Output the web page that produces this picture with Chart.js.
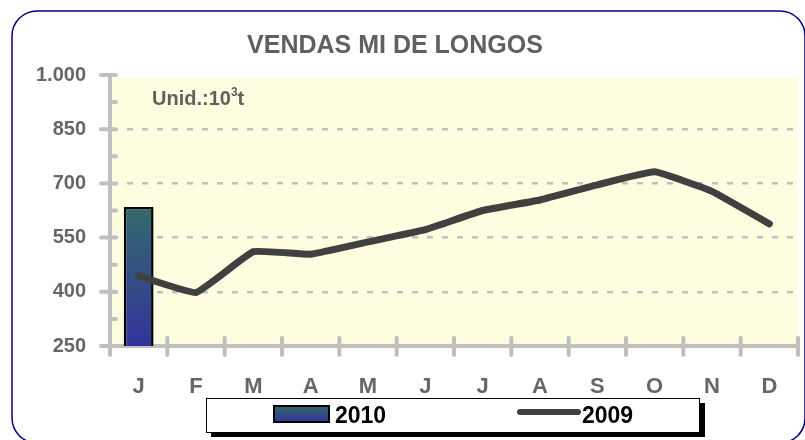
<!DOCTYPE html>
<html>
<head>
<meta charset="utf-8">
<script src="https://cdn.jsdelivr.net/npm/chart.js@4/dist/chart.umd.min.js"></script>
<style>
  html, body { margin: 0; padding: 0; background: #fff; }
  #wrap { width: 805px; height: 440px; position: relative; }
</style>
</head>
<body>
<div id="wrap"><canvas id="chart" width="805" height="440"></canvas></div>
<script>
// dados (10^3 t)
const months = ['J', 'F', 'M', 'A', 'M', 'J', 'J', 'A', 'S', 'O', 'N', 'D'];
const sales2010 = [635, null, null, null, null, null, null, null, null, null, null, null];
const sales2009 = [444, 398, 511, 504, 538, 572, 625, 654, 696, 732, 678, 588];
const yTickLabels = { 250: '250', 400: '400', 550: '550', 700: '700', 850: '850', 1000: '1.000' };

const AXIS_GREY = '#c0c0c0';
const TEXT_GREY = '#666666';

// fundo, moldura, eixos e legenda desenhados à mão
const decorPlugin = {
  id: 'decor',
  beforeDraw(chart) {
    const { ctx, chartArea: a } = chart;
    ctx.save();
    ctx.fillStyle = '#fefde0';
    ctx.fillRect(a.left + 2, a.top + 3, a.right - a.left - 3, a.bottom - a.top - 3);

    // moldura arredondada
    ctx.strokeStyle = '#000080';
    ctx.lineWidth = 1.5;
    ctx.beginPath();
    ctx.roundRect(12, 11, 793, 432, 25);
    ctx.stroke();

    // título
    ctx.fillStyle = '#606060';
    ctx.font = 'bold 25px "Liberation Sans", Arial, sans-serif';
    ctx.textAlign = 'center';
    ctx.textBaseline = 'alphabetic';
    ctx.fillText('VENDAS MI DE LONGOS', 395, 53);

    // unidade
    ctx.textAlign = 'left';
    ctx.font = 'bold 20px "Liberation Sans", Arial, sans-serif';
    ctx.fillText('Unid.:10', 152, 105);
    let x = 152 + ctx.measureText('Unid.:10').width;
    ctx.font = 'bold 12px "Liberation Sans", Arial, sans-serif';
    ctx.fillText('3', x, 96);
    x += ctx.measureText('3').width;
    ctx.font = 'bold 20px "Liberation Sans", Arial, sans-serif';
    ctx.fillText('t', x, 105);
    ctx.restore();
  },
  afterDatasetsDraw(chart) {
    const { ctx, chartArea: a, scales } = chart;
    const ys = scales.y, xs = scales.x;
    ctx.save();
    ctx.strokeStyle = AXIS_GREY;
    ctx.lineCap = 'round';
    ctx.lineWidth = 4;
    // traços do eixo y
    ys.ticks.forEach(t => {
      const py = ys.getPixelForValue(t.value);
      const major = (t.value - 250) % 150 === 0;
      ctx.beginPath();
      ctx.moveTo(major ? a.left - 9 : a.left, py);
      ctx.lineTo(a.left + 6, py);
      ctx.stroke();
    });
    // traços do eixo x (nas fronteiras das categorias)
    const step = (a.right - a.left) / months.length;
    for (let i = 0; i <= months.length; i++) {
      const px = xs.getPixelForValue(i) - step / 2;
      ctx.beginPath();
      ctx.moveTo(px, a.bottom - 8);
      ctx.lineTo(px, a.bottom + 9);
      ctx.stroke();
    }
    ctx.restore();
  },
  afterDraw(chart) {
    const { ctx } = chart;
    ctx.save();
    // caixa da legenda com sombra
    ctx.fillStyle = '#000';
    ctx.fillRect(211, 403, 494, 34);
    ctx.fillStyle = '#fff';
    ctx.fillRect(206, 398, 493, 34);
    ctx.strokeStyle = '#000';
    ctx.lineWidth = 1;
    ctx.strokeRect(206.5, 398.5, 493, 34);

    // amostra barra 2010
    const g = ctx.createLinearGradient(0, 406, 0, 422);
    g.addColorStop(0, '#336a6a');
    g.addColorStop(1, '#33339b');
    ctx.fillStyle = g;
    ctx.fillRect(274, 406, 55, 16);
    ctx.lineWidth = 2;
    ctx.strokeRect(274, 406, 55, 16);

    // amostra linha 2009
    ctx.strokeStyle = '#404040';
    ctx.lineWidth = 6;
    ctx.lineCap = 'round';
    ctx.beginPath();
    ctx.moveTo(520, 412);
    ctx.lineTo(578, 412);
    ctx.stroke();

    ctx.fillStyle = '#000';
    ctx.font = 'bold 23px "Liberation Sans", Arial, sans-serif';
    ctx.textBaseline = 'alphabetic';
    ctx.fillText('2010', 335, 423);
    ctx.fillText('2009', 582, 423);
    ctx.restore();
  }
};

new Chart(document.getElementById('chart'), {
  data: {
    labels: months,
    datasets: [
      {
        type: 'line',
        label: '2009',
        data: sales2009,
        borderColor: '#404040',
        borderWidth: 7,
        borderCapStyle: 'round',
        borderJoinStyle: 'round',
        pointRadius: 0,
        tension: 0.1,
        order: 1
      },
      {
        type: 'bar',
        label: '2010',
        data: sales2010,
        backgroundColor: (c) => {
          const area = c.chart.chartArea;
          if (!area) return '#336a6a';
          const top = c.chart.scales.y.getPixelForValue(sales2010[0]);
          const g = c.chart.ctx.createLinearGradient(0, top, 0, area.bottom);
          g.addColorStop(0, '#336a6a');
          g.addColorStop(1, '#33339b');
          return g;
        },
        borderColor: '#000',
        borderWidth: 2.5,
        categoryPercentage: 1,
        barPercentage: 0.52,
        order: 2
      }
    ]
  },
  options: {
    responsive: false,
    animation: false,
    layout: { padding: { top: 75, right: 7, left: 0, bottom: 0 } },
    plugins: {
      legend: { display: false },
      tooltip: { enabled: false }
    },
    scales: {
      x: {
        offset: true,
        grid: { display: false },
        border: { display: true, color: AXIS_GREY, width: 4 },
        ticks: {
          color: TEXT_GREY,
          font: { family: '"Liberation Sans", Arial, sans-serif', size: 22, weight: 'bold' },
          padding: 20,
          maxRotation: 0
        },
        afterFit: (s) => { s.height = 94; }
      },
      y: {
        min: 250,
        max: 1000,
        grid: {
          drawTicks: false,
          lineWidth: 2.5,
          color: (c) => [400, 550, 700, 850].includes(c.tick && c.tick.value) ? AXIS_GREY : 'transparent'
        },
        border: { display: true, color: AXIS_GREY, width: 4, dash: [6, 9] },
        ticks: {
          stepSize: 75,
          color: TEXT_GREY,
          font: { family: '"Liberation Sans", Arial, sans-serif', size: 20, weight: 'bold' },
          padding: 24,
          callback: (v) => yTickLabels[v] || ''
        },
        afterFit: (s) => { s.width = 110; }
      }
    }
  },
  plugins: [decorPlugin]
});
</script>
</body>
</html>
